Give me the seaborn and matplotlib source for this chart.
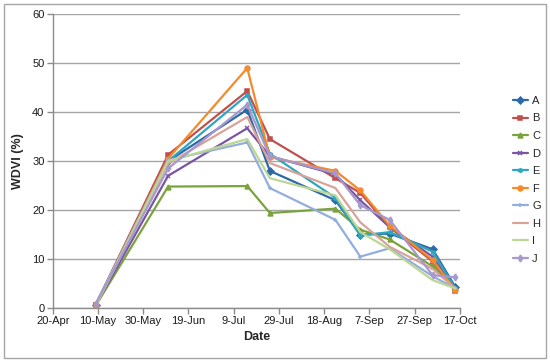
import pandas as pd
import matplotlib
matplotlib.use("Agg")
import matplotlib.pyplot as plt
import matplotlib.dates as mdates
from matplotlib.patches import Rectangle
import seaborn as sns

# sampling dates
dates = ["2012-05-09", "2012-06-10", "2012-07-15", "2012-07-25", "2012-08-23",
         "2012-09-03", "2012-09-16", "2012-10-05", "2012-10-15"]

series = ["A", "B", "C", "D", "E", "F", "G", "H", "I", "J"]

A = [0.7, 30.0, 40.5, 28.0, 22.0, 15.0, 15.2, 12.0, 4.3]
B = [0.7, 31.3, 44.3, 34.5, 26.5, 23.5, 16.5, 9.5, 3.5]
C = [0.5, 24.8, 24.9, 19.4, 20.3, 16.0, 14.0, 8.5, 4.0]
D = [0.6, 27.0, 36.7, 31.0, 27.3, 22.0, 16.5, 10.5, 4.0]
E = [0.7, 30.0, 43.5, 31.5, 22.5, 14.8, 15.5, 11.5, 4.0]
F = [0.6, 30.5, 49.0, 30.8, 28.0, 24.0, 16.8, 9.8, 3.7]
G = [0.8, 30.2, 33.8, 24.5, 18.0, 10.5, 12.2, 6.5, 4.0]
H = [0.6, 29.5, 39.0, 29.6, 24.5, 17.5, 12.5, 8.0, 4.0]
I = [0.5, 30.0, 34.5, 26.5, 23.0, 15.5, 12.0, 5.7, 4.0]
J = [0.9, 28.5, 41.5, 31.0, 27.5, 21.0, 18.0, 6.7, 6.3]

values = [A, B, C, D, E, F, G, H, I, J]

colors = {"A": "#2a6aa6", "B": "#c0504d", "C": "#7aa33e", "D": "#7a55a2",
          "E": "#2ea6c0", "F": "#f38a2e", "G": "#93aede", "H": "#d9a39a",
          "I": "#bcd694", "J": "#a799cc"}
markers = {"A": "D", "B": "s", "C": "^", "D": "x", "E": (6, 2, 0),
           "F": "o", "G": "+", "H": "", "I": "", "J": "d"}

rows = []
for name, vals in zip(series, values):
    for d, v in zip(dates, vals):
        rows.append({"date": pd.Timestamp(d), "wdvi": v, "series": name})
df = pd.DataFrame(rows)

sns.set_style("white")
plt.rcParams["font.family"] = ["Liberation Sans", "DejaVu Sans"]

fig = plt.figure(figsize=(5.5, 3.62), dpi=100)
ax = fig.add_axes([0.096, 0.149, 0.74, 0.812])

for name in series:
    sub = df[df["series"] == name]
    sns.lineplot(data=sub, x="date", y="wdvi", color=colors[name],
                 marker=markers[name], markersize=3.5, markeredgewidth=1.1,
                 markeredgecolor=colors[name], linewidth=1.6, label=name, ax=ax)

ax.set_xlim(pd.Timestamp("2012-04-20"), pd.Timestamp("2012-10-17"))
ax.set_ylim(0, 60)
ax.set_yticks(range(0, 61, 10))
ax.set_xticks(pd.date_range("2012-04-20", "2012-10-17", freq="20D"))
ax.xaxis.set_major_formatter(mdates.DateFormatter("%-d-%b"))

ax.grid(axis="y", color="#a6a6a6", linewidth=1)
ax.grid(axis="x", visible=False)
ax.set_axisbelow(True)
for s in ["top", "right"]:
    ax.spines[s].set_visible(False)
for s in ["left", "bottom"]:
    ax.spines[s].set_color("#8c8c8c")
    ax.spines[s].set_linewidth(1)
ax.tick_params(axis="both", direction="out", length=4, width=1, color="#8c8c8c",
               labelsize=8, labelcolor="#1a1a1a", pad=2)
ax.tick_params(axis="x", bottom=True)
ax.tick_params(axis="y", left=True)

ax.set_xlabel("Date", fontsize=9, fontweight="bold", labelpad=3)
ax.set_ylabel("WDVI (%)", fontsize=9, fontweight="bold", labelpad=6)

handles, labels = ax.get_legend_handles_labels()
ax.legend(handles, labels, loc="center left", bbox_to_anchor=(0.933, 0.503),
          bbox_transform=fig.transFigure, frameon=False, fontsize=8,
          handlelength=1.3, handletextpad=0.4, labelspacing=0.68,
          borderpad=0, borderaxespad=0)

fig.patches.append(Rectangle((4 / 550, 4 / 362), 542 / 550, 354 / 362,
                             transform=fig.transFigure, fill=False,
                             edgecolor="#a6a6a6", linewidth=1))

fig.savefig("out.png", dpi=100)
